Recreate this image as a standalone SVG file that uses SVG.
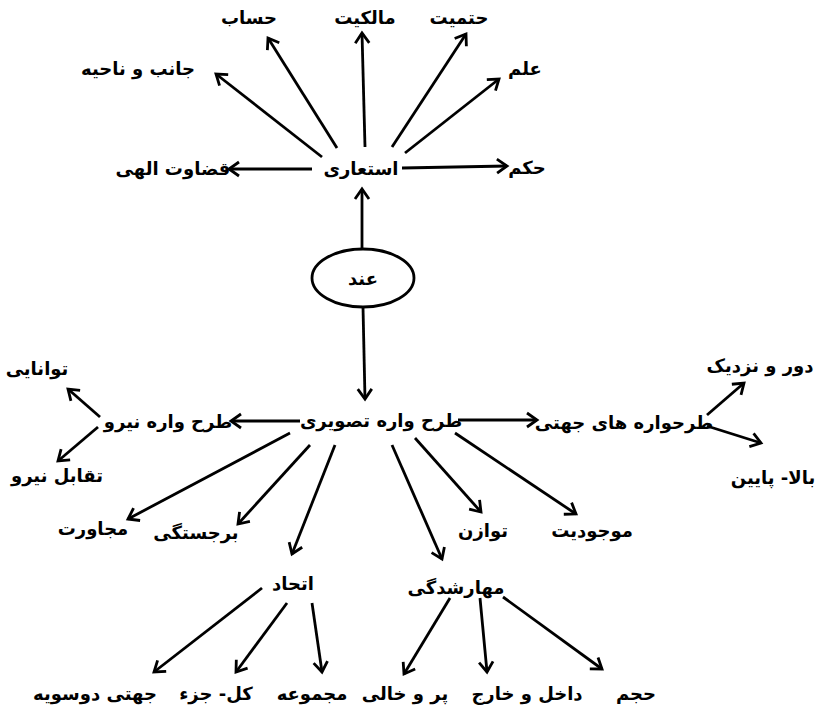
<svg xmlns="http://www.w3.org/2000/svg" width="819" height="709" viewBox="0 0 819 709">
<style>
text{font-family:"DejaVu Sans","Noto Sans",sans-serif;font-weight:bold;font-size:18px;fill:#000;text-anchor:middle;direction:rtl}
.c line{stroke:#000;stroke-width:2.8;marker-end:url(#ah)}
</style>
<defs>
<marker id="ah" markerUnits="userSpaceOnUse" markerWidth="20" markerHeight="20" refX="0" refY="0" viewBox="-12 -10 14 20" orient="auto">
<path d="M-10,-7 L0,0 L-10,7" fill="none" stroke="#000" stroke-width="2.8"/>
</marker>
</defs>
<rect width="819" height="709" fill="#fff"/>
<g class="c" id="connectors">
<line x1="312" y1="169" x2="229" y2="169"/>
<line x1="402" y1="168" x2="507" y2="166"/>
<line x1="322" y1="157" x2="216" y2="74"/>
<line x1="337" y1="148" x2="268" y2="38"/>
<line x1="365" y1="147" x2="362" y2="33"/>
<line x1="392" y1="147" x2="466" y2="34"/>
<line x1="405" y1="153" x2="499" y2="79"/>
<line x1="362" y1="248" x2="362" y2="189"/>
<line x1="363" y1="307" x2="365" y2="399"/>
<line x1="300" y1="421" x2="231" y2="421"/>
<line x1="458" y1="420" x2="537" y2="420"/>
<line x1="100" y1="417" x2="68" y2="389"/>
<line x1="98" y1="427" x2="58" y2="461"/>
<line x1="707" y1="415" x2="744" y2="383"/>
<line x1="707" y1="426" x2="761" y2="443"/>
<line x1="290" y1="433" x2="128" y2="519"/>
<line x1="310" y1="445" x2="238" y2="524"/>
<line x1="335" y1="445" x2="292" y2="554"/>
<line x1="392" y1="445" x2="442" y2="559"/>
<line x1="415" y1="438" x2="481" y2="512"/>
<line x1="455" y1="433" x2="576" y2="514"/>
<line x1="262" y1="588" x2="154" y2="672"/>
<line x1="287" y1="603" x2="236" y2="672"/>
<line x1="312" y1="603" x2="322" y2="672"/>
<line x1="450" y1="598" x2="404" y2="674"/>
<line x1="480" y1="598" x2="487" y2="672"/>
<line x1="503" y1="597" x2="602" y2="669"/>
</g>
<g id="n-estearI"><text x="361" y="175">استعاری</text></g>
<g id="n-ghezavat"><text x="173" y="175">قضاوت الهی</text></g>
<g id="n-hokm"><text x="527" y="174">حکم</text></g>
<g id="n-janeb"><text x="138" y="75">جانب و ناحیه</text></g>
<g id="n-hesab"><text x="249" y="24">حساب</text></g>
<g id="n-malekiyat"><text x="365" y="24">مالکیت</text></g>
<g id="n-hatmiyat"><text x="459" y="24">حتمیت</text></g>
<g id="n-elm"><text x="525" y="75">علم</text></g>
<g id="n-end"><ellipse cx="363" cy="278" rx="51" ry="29" fill="#fff" stroke="#000" stroke-width="2.8"/><text x="363" y="285">عند</text></g>
<g id="n-tasviri"><text x="381" y="427">طرح واره تصویری</text></g>
<g id="n-niru"><text x="168" y="428">طرح واره نیرو</text></g>
<g id="n-tavanayi"><text x="37" y="375">توانایی</text></g>
<g id="n-taghabol"><text x="57" y="482">تقابل نیرو</text></g>
<g id="n-jahati"><text x="624" y="429">طرحواره های جهتی</text></g>
<g id="n-dur"><text x="760" y="372">دور و نزدیک</text></g>
<g id="n-bala"><text x="773" y="484">بالا- پایین</text></g>
<g id="n-mojaverat"><text x="93" y="535">مجاورت</text></g>
<g id="n-barjastegi"><text x="196" y="539">برجستگی</text></g>
<g id="n-ettehad"><text x="293" y="590">اتحاد</text></g>
<g id="n-mahar"><text x="456" y="594">مهارشدگی</text></g>
<g id="n-tavazon"><text x="483" y="537">توازن</text></g>
<g id="n-mojudiyat"><text x="592" y="537">موجودیت</text></g>
<g id="n-dosuye"><text x="95" y="700">جهتی دوسویه</text></g>
<g id="n-koljoz"><text x="216" y="700">کل- جزء</text></g>
<g id="n-majmue"><text x="312" y="700">مجموعه</text></g>
<g id="n-por"><text x="405" y="700">پر و خالی</text></g>
<g id="n-dakhel"><text x="527" y="700">داخل و خارج</text></g>
<g id="n-hajm"><text x="636" y="700">حجم</text></g>
</svg>
